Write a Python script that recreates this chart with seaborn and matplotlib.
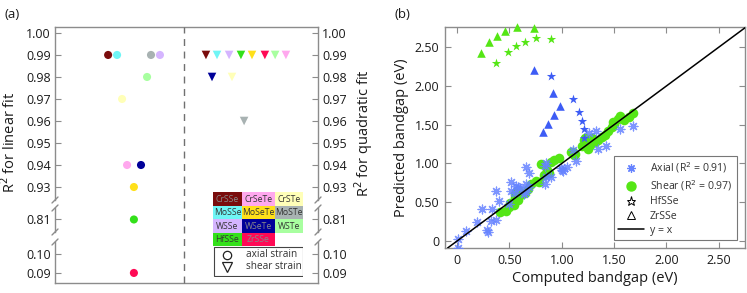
import numpy as np
import pandas as pd
import matplotlib
matplotlib.use("Agg")
import matplotlib.pyplot as plt
import seaborn as sns
from matplotlib.lines import Line2D
from matplotlib.patches import Rectangle
import matplotlib.transforms as mtransforms
from matplotlib.ticker import FuncFormatter, FixedLocator

# ---------------- data: panel (a) ----------------
materials = ['CrSSe', 'CrSeTe', 'CrSTe', 'MoSSe', 'MoSeTe', 'MoSTe',
             'WSSe', 'WSeTe', 'WSTe', 'HfSSe', 'ZrSSe']
mat_colors = ['#7a0c0c', '#ffa8ee', '#ffffb8', '#6ff5f5', '#ffe01a', '#a8b2b2',
              '#d5b5ff', '#000099', '#a8ffa0', '#33e01a', '#ff0a55']

axial_mat = ['CrSSe', 'MoSSe', 'MoSTe', 'WSSe', 'WSTe', 'CrSTe',
             'CrSeTe', 'WSeTe', 'MoSeTe', 'HfSSe', 'ZrSSe']
axial_r2 = [0.99, 0.99, 0.99, 0.99, 0.98, 0.97, 0.94, 0.94, 0.93, 0.81, 0.09]
axial_pos = [20.2, 23.6, 36.5, 39.9, 35.0, 25.5, 27.4, 32.7, 30.0, 30.0, 30.0]

shear_mat = ['CrSSe', 'MoSSe', 'WSSe', 'HfSSe', 'MoSeTe', 'ZrSSe', 'WSTe',
             'CrSeTe', 'WSeTe', 'CrSTe', 'MoSTe']
shear_r2 = [0.99, 0.99, 0.99, 0.99, 0.99, 0.99, 0.99, 0.99, 0.98, 0.98, 0.96]
shear_pos = [57.4, 61.6, 66.2, 70.7, 74.9, 79.8, 83.7, 87.8, 59.7, 67.3, 71.9]

# ---------------- data: panel (b) ----------------
axial_comp = [0.01, 0.01, 0.09, 0.19, 0.24, 0.29, 0.30, 0.32, 0.33, 0.37, 0.37, 0.40,
              0.52, 0.515, 0.56, 0.585, 0.64, 0.655, 0.69, 0.655, 0.69, 0.66, 0.846,
              0.846, 0.90, 0.84, 0.84, 1.00, 1.01, 0.99, 1.14, 1.05, 1.11, 1.26, 1.33,
              1.35, 1.42, 1.56, 1.68, 0.55, 0.50, 0.60]
axial_pred = [0.02, -0.09, 0.13, 0.24, 0.41, 0.14, 0.12, 0.26, 0.41, 0.27, 0.65, 0.52,
              0.76, 0.64, 0.71, 0.70, 0.61, 0.95, 0.88, 0.74, 0.70, 0.63, 1.00,
              0.82, 0.83, 0.74, 0.97, 0.92, 0.90, 0.94, 1.03, 0.96, 1.18, 1.39, 1.42,
              1.19, 1.22, 1.45, 1.48, 0.62, 0.48, 0.68]

shear_comp = [0.41, 0.47, 0.50, 0.51, 0.54, 0.55, 0.55, 0.57, 0.585, 0.58, 0.60, 0.62,
              0.65, 0.68, 0.71, 0.75, 0.78, 0.80, 0.83, 0.86, 0.88, 0.90, 0.93, 0.97,
              1.09, 1.11, 1.12, 1.13, 1.19, 1.21, 1.23, 1.25, 1.27, 1.29, 1.32, 1.35,
              1.38, 1.41, 1.44, 1.48, 1.50, 1.49, 1.54, 1.555, 1.59, 1.645, 1.68, 1.22]
shear_pred = [0.37, 0.39, 0.44, 0.49, 0.46, 0.57, 0.61, 0.65, 0.66, 0.53, 0.59, 0.60,
              0.62, 0.67, 0.74, 0.78, 0.76, 0.99, 0.85, 0.91, 0.88, 1.02, 1.05, 1.07,
              1.15, 1.15, 1.11, 1.12, 1.22, 1.30, 1.26, 1.19, 1.24, 1.33, 1.28, 1.30,
              1.34, 1.37, 1.42, 1.47, 1.51, 1.54, 1.58, 1.61, 1.56, 1.60, 1.65, 1.33]

hf_axial_comp = [0.897, 1.11, 1.164, 1.193, 1.215, 1.21]
hf_axial_pred = [2.13, 1.83, 1.66, 1.55, 1.44, 1.33]
hf_shear_comp = [0.369, 0.487, 0.566, 0.646, 0.757, 0.897]
hf_shear_pred = [2.29, 2.44, 2.51, 2.57, 2.62, 2.61]
zr_axial_comp = [0.735, 0.916, 0.986, 0.926, 0.865, 0.817]
zr_axial_pred = [2.20, 1.91, 1.74, 1.62, 1.51, 1.40]
zr_shear_comp = [0.229, 0.305, 0.379, 0.458, 0.570, 0.735]
zr_shear_pred = [2.42, 2.57, 2.65, 2.71, 2.76, 2.75]

b_ticks = [0, 0.5, 1.0, 1.5, 2.0, 2.5]

# ---------------- style ----------------
sns.set_theme(style="white")
plt.rcParams['font.family'] = ['Open Sans', 'DejaVu Sans']
plt.rcParams['axes.unicode_minus'] = False

W, H = 747, 293
fig = plt.figure(figsize=(W / 100, H / 100), dpi=100)
fig.patch.set_facecolor('white')

def fx(px):
    return px / W

def fy(py):
    return 1 - py / H

SP = '#8c8c8c'
TXT = '#1a1a1a'
palette = dict(zip(materials, mat_colors))

df_ax = pd.DataFrame({'pos': axial_pos, 'r2': axial_r2, 'mat': axial_mat})
df_sh = pd.DataFrame({'pos': shear_pos, 'r2': shear_r2, 'mat': shear_mat})

# ---------------- panel (a) : broken axis ----------------
left_px, right_px = 55, 318
segs = [
    (27, 200, (0.9241, 1.0027), [0.93, 0.94, 0.95, 0.96, 0.97, 0.98, 0.99, 1.00]),
    (208, 232, (0.804, 0.8155), [0.81]),
    (242, 283, (0.0847, 0.1063), [0.09, 0.10]),
]
axes_a = []
for i, (t, b, ylim, ticks) in enumerate(segs):
    ax = fig.add_axes([fx(left_px), fy(b), fx(right_px - left_px), (b - t) / H])
    ax.set_facecolor('white')
    sns.scatterplot(data=df_ax, x='pos', y='r2', hue='mat', palette=palette,
                    marker='o', s=34, linewidth=0, legend=False, ax=ax)
    sns.scatterplot(data=df_sh, x='pos', y='r2', hue='mat', palette=palette,
                    marker='v', s=38, linewidth=0, legend=False, ax=ax)
    ax.set_xlim(0, 100)
    ax.set_ylim(*ylim)
    ax.set_xlabel('')
    ax.set_ylabel('')
    ax.set_xticks([])
    ax.yaxis.set_major_locator(FixedLocator(ticks))
    ax.yaxis.set_major_formatter(FuncFormatter(lambda v, p: f"{v:.2f}"))
    ax.tick_params(axis='y', which='both', left=True, right=True, labelleft=True,
                   labelright=True, direction='in', length=4, width=0.8,
                   color=SP, labelsize=9, labelcolor=TXT, pad=3)
    for s in ax.spines.values():
        s.set_color(SP)
        s.set_linewidth(1.0)
    if i > 0:
        ax.spines['top'].set_visible(False)
    if i < 2:
        ax.spines['bottom'].set_visible(False)
    axes_a.append(ax)

# break marks
for ypx in [200, 208, 232, 242]:
    for xpx in [left_px, right_px]:
        fig.add_artist(Line2D([fx(xpx - 3), fx(xpx + 3)], [fy(ypx + 3), fy(ypx - 3)],
                              color=SP, lw=1.0, transform=fig.transFigure))

# dashed separator
trans = mtransforms.blended_transform_factory(axes_a[0].transData, fig.transFigure)
fig.add_artist(Line2D([49, 49], [fy(283), fy(27)], color='#707070', lw=1.0,
                      dashes=(5, 4), transform=trans))

fig.text(fx(10), fy(142), r'R$^2$ for linear fit', rotation=90, ha='center',
         va='center', fontsize=10.5, color=TXT)
fig.text(fx(364), fy(133), r'R$^2$ for quadratic fit', rotation=90, ha='center',
         va='center', fontsize=10.5, color=TXT)
fig.text(fx(12), fy(14), '(a)', ha='center', va='center', fontsize=9.5, color=TXT)
fig.text(fx(402), fy(14), '(b)', ha='center', va='center', fontsize=9.5, color=TXT)

# colour key (inset)
kx0, ky0, kx1, ky1 = 213, 192, 303, 277
kax = fig.add_axes([fx(kx0), fy(ky1), fx(kx1 - kx0), (ky1 - ky0) / H])
kax.set_xlim(0, kx1 - kx0)
kax.set_ylim(ky1 - ky0, 0)
kax.axis('off')
col_edges = [0, 29, 62, 90]
row_h = 13.5
dark = {'CrSSe', 'WSeTe', 'ZrSSe'}
for k, (name, c) in enumerate(zip(materials, mat_colors)):
    r, cidx = divmod(k, 3)
    x0, x1 = col_edges[cidx], col_edges[cidx + 1]
    kax.add_patch(Rectangle((x0, r * row_h), x1 - x0, row_h, facecolor=c,
                            edgecolor='none'))
    kax.text((x0 + x1) / 2, r * row_h + row_h / 2 + 0.3, name, ha='center',
             va='center', fontsize=6.2,
             color='#8a8a8a' if name in dark else '#333333')
box_top = 4 * row_h + 1
kax.add_patch(Rectangle((0.5, box_top), 89, 29, facecolor='white',
                        edgecolor='#444444', lw=0.8))
kax.plot([14], [box_top + 7.5], marker='o', ms=6, mfc='white', mec='#222222',
         mew=0.9, ls='none')
kax.plot([14], [box_top + 19.5], marker='v', ms=6.5, mfc='white', mec='#222222',
         mew=0.9, ls='none')
kax.text(33, box_top + 7.5, 'axial strain', va='center', fontsize=7.2, color='#333333')
kax.text(33, box_top + 19.5, 'shear strain', va='center', fontsize=7.2, color='#333333')

# ---------------- panel (b) ----------------
axb = fig.add_axes([fx(445), fy(248), fx(300), 221 / H])
axb.set_facecolor('white')
green = '#55e615'
blue = '#3d5cf5'
light_blue = '#6683ff'

sns.scatterplot(x=shear_comp, y=shear_pred, marker='o', s=48, color=green,
                linewidth=0, ax=axb, zorder=3)
sns.scatterplot(x=axial_comp, y=axial_pred, marker=(8, 2, 0), s=40,
                color=light_blue, edgecolor=light_blue, linewidth=0.9, alpha=0.85,
                ax=axb, zorder=4)
sns.scatterplot(x=hf_axial_comp, y=hf_axial_pred, marker='*', s=50, color=blue,
                linewidth=0, ax=axb, zorder=4)
sns.scatterplot(x=zr_axial_comp, y=zr_axial_pred, marker='^', s=38, color=blue,
                linewidth=0, ax=axb, zorder=4)
sns.scatterplot(x=hf_shear_comp, y=hf_shear_pred, marker='*', s=50, color=green,
                linewidth=0, ax=axb, zorder=4)
sns.scatterplot(x=zr_shear_comp, y=zr_shear_pred, marker='^', s=38, color=green,
                linewidth=0, ax=axb, zorder=4, clip_on=False)
axb.axline((0, 0), slope=1, color='black', lw=1.1, zorder=5)

axb.set_xlim(-0.115, 2.75)
axb.set_ylim(-0.09, 2.76)
axb.set_xticks(b_ticks)
axb.set_yticks(b_ticks)
fmt = FuncFormatter(lambda v, p: '0' if abs(v) < 1e-9 else f"{v:.2f}")
axb.xaxis.set_major_formatter(fmt)
axb.yaxis.set_major_formatter(fmt)
axb.tick_params(axis='both', which='both', direction='in', length=4, width=0.8,
                color=SP, labelsize=9, labelcolor=TXT, top=True, right=True,
                bottom=True, left=True, pad=4)
for s in axb.spines.values():
    s.set_color(SP)
    s.set_linewidth(1.0)
axb.set_xlabel('Computed bandgap (eV)', fontsize=10.5, color=TXT, labelpad=3)
axb.set_ylabel('Predicted bandgap (eV)', fontsize=10.5, color=TXT, labelpad=4)

handles = [
    Line2D([], [], ls='none', marker=(8, 2, 0), ms=6, mec=light_blue, mew=0.9,
           color=light_blue),
    Line2D([], [], ls='none', marker='o', ms=6.5, mfc=green, mec=green),
    Line2D([], [], ls='none', marker='*', ms=6.5, mfc='white', mec='black', mew=0.7),
    Line2D([], [], ls='none', marker='^', ms=6, mfc='white', mec='black', mew=0.7),
    Line2D([], [], color='black', lw=1.1),
]
labels = [r'Axial (R$^2$ = 0.91)', r'Shear (R$^2$ = 0.97)', 'HfSSe', 'ZrSSe', 'y = x']
leg = axb.legend(handles, labels, loc='lower right',
                 bbox_to_anchor=(0.973, 0.036), borderaxespad=0, fontsize=7.6,
                 frameon=True, fancybox=False, handlelength=2.4, handletextpad=0.6,
                 labelspacing=0.3, borderpad=0.4)
leg.get_frame().set_edgecolor('#555555')
leg.get_frame().set_linewidth(0.8)
for t in leg.get_texts():
    t.set_color('#333333')

fig.savefig('out.png', dpi=100, facecolor='white')
